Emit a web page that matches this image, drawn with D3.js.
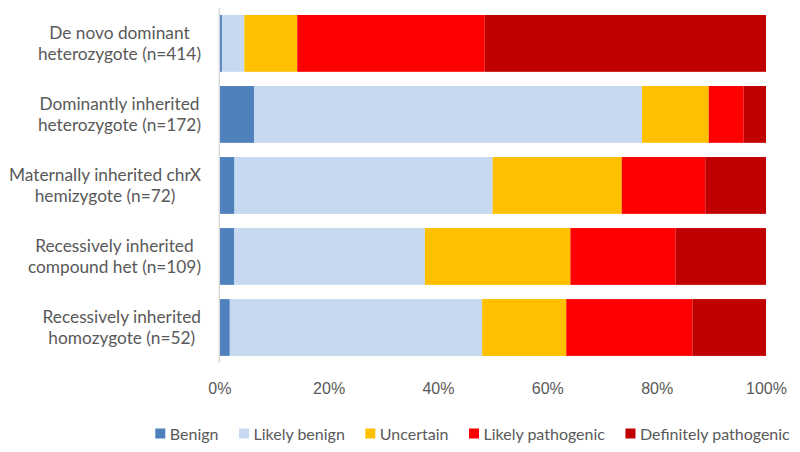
<!DOCTYPE html>
<html>
<head>
<meta charset="utf-8">
<script src="https://cdn.jsdelivr.net/npm/d3@7"></script>
<style>
  html, body { margin: 0; padding: 0; background: #fff; }
  svg { display: block; }
</style>
</head>
<body>
<svg id="chart" width="800" height="452"></svg>
<script>
// ---- Data (counts per category) ----
const categories = [
  ["De novo dominant", "heterozygote (n=414)"],
  ["Dominantly inherited", "heterozygote (n=172)"],
  ["Maternally inherited chrX", "hemizygote (n=72)"],
  ["Recessively inherited", "compound het (n=109)"],
  ["Recessively inherited", "homozygote (n=52)"]
];
const seriesNames = ["Benign", "Likely benign", "Uncertain", "Likely pathogenic", "Definitely pathogenic"];
const seriesColors = ["#4F81BD", "#C6D9F0", "#FFC000", "#FF0000", "#C00000"];
const benign           = [2, 11, 2, 3, 1];
const likelyBenign     = [17, 122, 34, 38, 24];
const uncertain        = [40, 21, 17, 29, 8];
const likelyPathogenic = [142, 11, 11, 21, 12];
const definitelyPath   = [213, 7, 8, 18, 7];
const xTicks = [0, 0.2, 0.4, 0.6, 0.8, 1.0];

// ---- Build table ----
const seriesValues = [benign, likelyBenign, uncertain, likelyPathogenic, definitelyPath];
const keys = categories.map((c, i) => "c" + i);
const rows = keys.map((k, i) => {
  const total = d3.sum(seriesValues, s => s[i]);
  const r = { key: k, label: categories[i] };
  seriesNames.forEach((n, j) => { r[n] = seriesValues[j][i] / total; });
  return r;
});
const stacked = d3.stack().keys(seriesNames)(rows);

// ---- Layout ----
const svg = d3.select("#chart");
const x = d3.scaleLinear().domain([0, 1]).range([219.3, 766]);
const y = d3.scaleBand().domain(keys).range([7.9, 363]).paddingInner(0.2).paddingOuter(0.1);
const color = d3.scaleOrdinal().domain(seriesNames).range(seriesColors);
const textColor = "#595959";

// Bars
svg.append("g").selectAll("g")
  .data(stacked).join("g")
  .attr("fill", d => color(d.key))
  .selectAll("rect")
  .data(d => d).join("rect")
  .attr("x", d => x(d[0]))
  .attr("y", d => y(d.data.key))
  .attr("width", d => Math.max(0, x(d[1]) - x(d[0])))
  .attr("height", y.bandwidth());

// Vertical axis line
svg.append("line")
  .attr("x1", x(0)).attr("x2", x(0))
  .attr("y1", y.range()[0]).attr("y2", y.range()[1])
  .attr("stroke", "#D9D9D9").attr("stroke-width", 1.5);

// X tick labels
const xAxis = d3.axisBottom(x).tickValues(xTicks).tickFormat(d3.format(".0%")).tickSize(0).tickPadding(0);
const gx = svg.append("g").attr("transform", "translate(0,394)").call(xAxis);
gx.select(".domain").remove();
gx.selectAll("text")
  .attr("dy", 0)
  .attr("y", 0)
  .attr("fill", textColor)
  .style("font-family", "'Liberation Sans', Arial, sans-serif")
  .style("font-size", "16px");

// Y category labels (centre-aligned blocks, right edge at ~201)
const labelFont = "Lato, 'Open Sans', sans-serif";
const labelSize = 17.3;
const rightEdge = 201;
const gy = svg.append("g");
rows.forEach(r => {
  const cy = y(r.key) + y.bandwidth() / 2;
  const t = gy.append("text")
    .attr("fill", textColor)
    .style("font-family", labelFont)
    .style("font-size", labelSize + "px")
    .attr("text-anchor", "middle");
  const spans = r.label.map((line, i) => t.append("tspan")
    .attr("y", cy + (i === 0 ? -4.2 : 16.8))
    .text(line));
  const w = d3.max(spans, s => s.node().getComputedTextLength());
  spans.forEach(s => s.attr("x", rightEdge - w / 2));
});

// Legend
const legend = svg.append("g");
let lx = 155.3;
seriesNames.forEach(n => {
  legend.append("rect")
    .attr("x", lx).attr("y", 428.5).attr("width", 10).attr("height", 10)
    .attr("fill", color(n));
  const t = legend.append("text")
    .attr("x", lx + 14.5).attr("y", 439.5)
    .attr("fill", textColor)
    .style("font-family", labelFont)
    .style("font-size", "16px")
    .text(n);
  lx += 14.5 + t.node().getComputedTextLength() + 20.5;
});
</script>
</body>
</html>
